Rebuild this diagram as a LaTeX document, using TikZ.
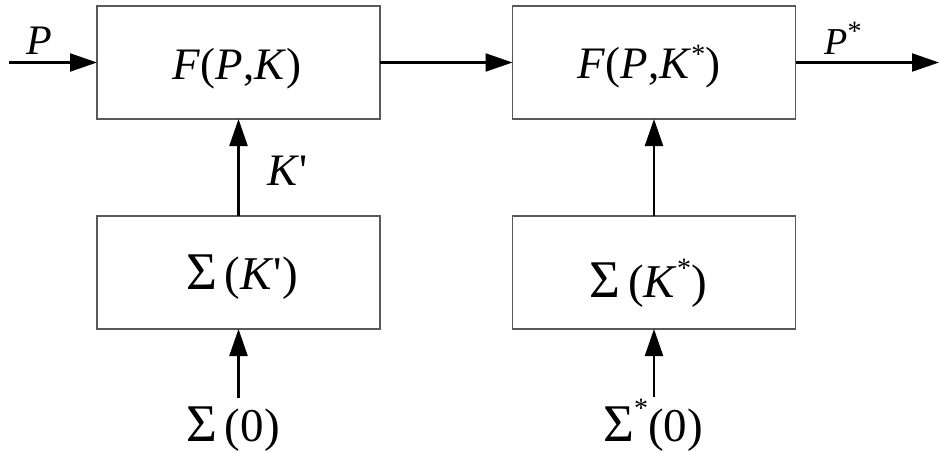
\documentclass[tikz,border=0pt]{standalone}
\usepackage{fontspec}
\setmainfont{Liberation Serif}
\newfontfamily\plainser{Liberation Serif}
\usetikzlibrary{arrows.meta}
\newcommand{\sz}[1]{\fontsize{#1}{#1}\selectfont}
\newcommand{\bigsig}{{\sz{53}Σ}}
\newcommand{\qt}{{\plainser\upshape '}}
\newcommand{\st}[1]{\raisebox{#1}{\sz{28}*}}
\begin{document}
\begin{tikzpicture}[x=1pt,y=-1pt,
  blk/.style={draw=black!65,line width=1.2pt,inner sep=0pt,outer sep=0pt,minimum width=283pt,minimum height=113pt},
  arr/.style={line width=2.2pt,-{Triangle[length=27pt,width=18pt]}},
  lbl/.style={anchor=base,inner sep=0pt}]
\useasboundingbox (0,0) rectangle (940,452);
\node[blk] (f1) at (238.5,62.5) {};
\node[blk] (f2) at (654,62.5) {};
\node[blk] (s1) at (238.5,272.5) {};
\node[blk] (s2) at (654,272.5) {};
\node[lbl,font=\sz{45}] (t1) at (237,80) {\textit{F}(\textit{P},\textit{K})};
\node[lbl,font=\sz{45}] (t2) at (649,79) {\textit{F}(\textit{P},\textit{K}\st{16pt})};
\node[lbl,font=\sz{47}] (t3) at (242,289) {\bigsig\,(\textit{K}\qt)};
\node[lbl,font=\sz{47}] (t4) at (648,297) {\bigsig\,(\textit{K}\st{20pt})};
\node[lbl,font=\sz{47}] (t5) at (233,441) {\bigsig\,(0)};
\node[lbl,font=\sz{47}] (t6) at (653,441) {\bigsig\st{24pt}(0)};
\node[lbl,font=\sz{45}] (lK) at (288,185) {\textit{K}\qt};
\node[lbl,font=\sz{42}] (lP) at (39,55) {\textit{P}};
\node[lbl,font=\sz{38}] (lPs) at (843,55) {\textit{P}\st{14pt}};
\coordinate (pin) at (9,62.5);
\coordinate (pout) at (939,62.5);
\coordinate (z1) at (238.5,398);
\coordinate (z2) at (654,397);
\draw[arr] (pin) -- (f1.west);
\draw[arr] (f1.east) -- (f2.west);
\draw[arr] (f2.east) -- (pout);
\draw[arr] (s1.north) -- (f1.south);
\draw[arr] (s2.north) -- (f2.south);
\draw[arr] (z1) -- (s1.south);
\draw[arr] (z2) -- (s2.south);
\end{tikzpicture}
\end{document}
